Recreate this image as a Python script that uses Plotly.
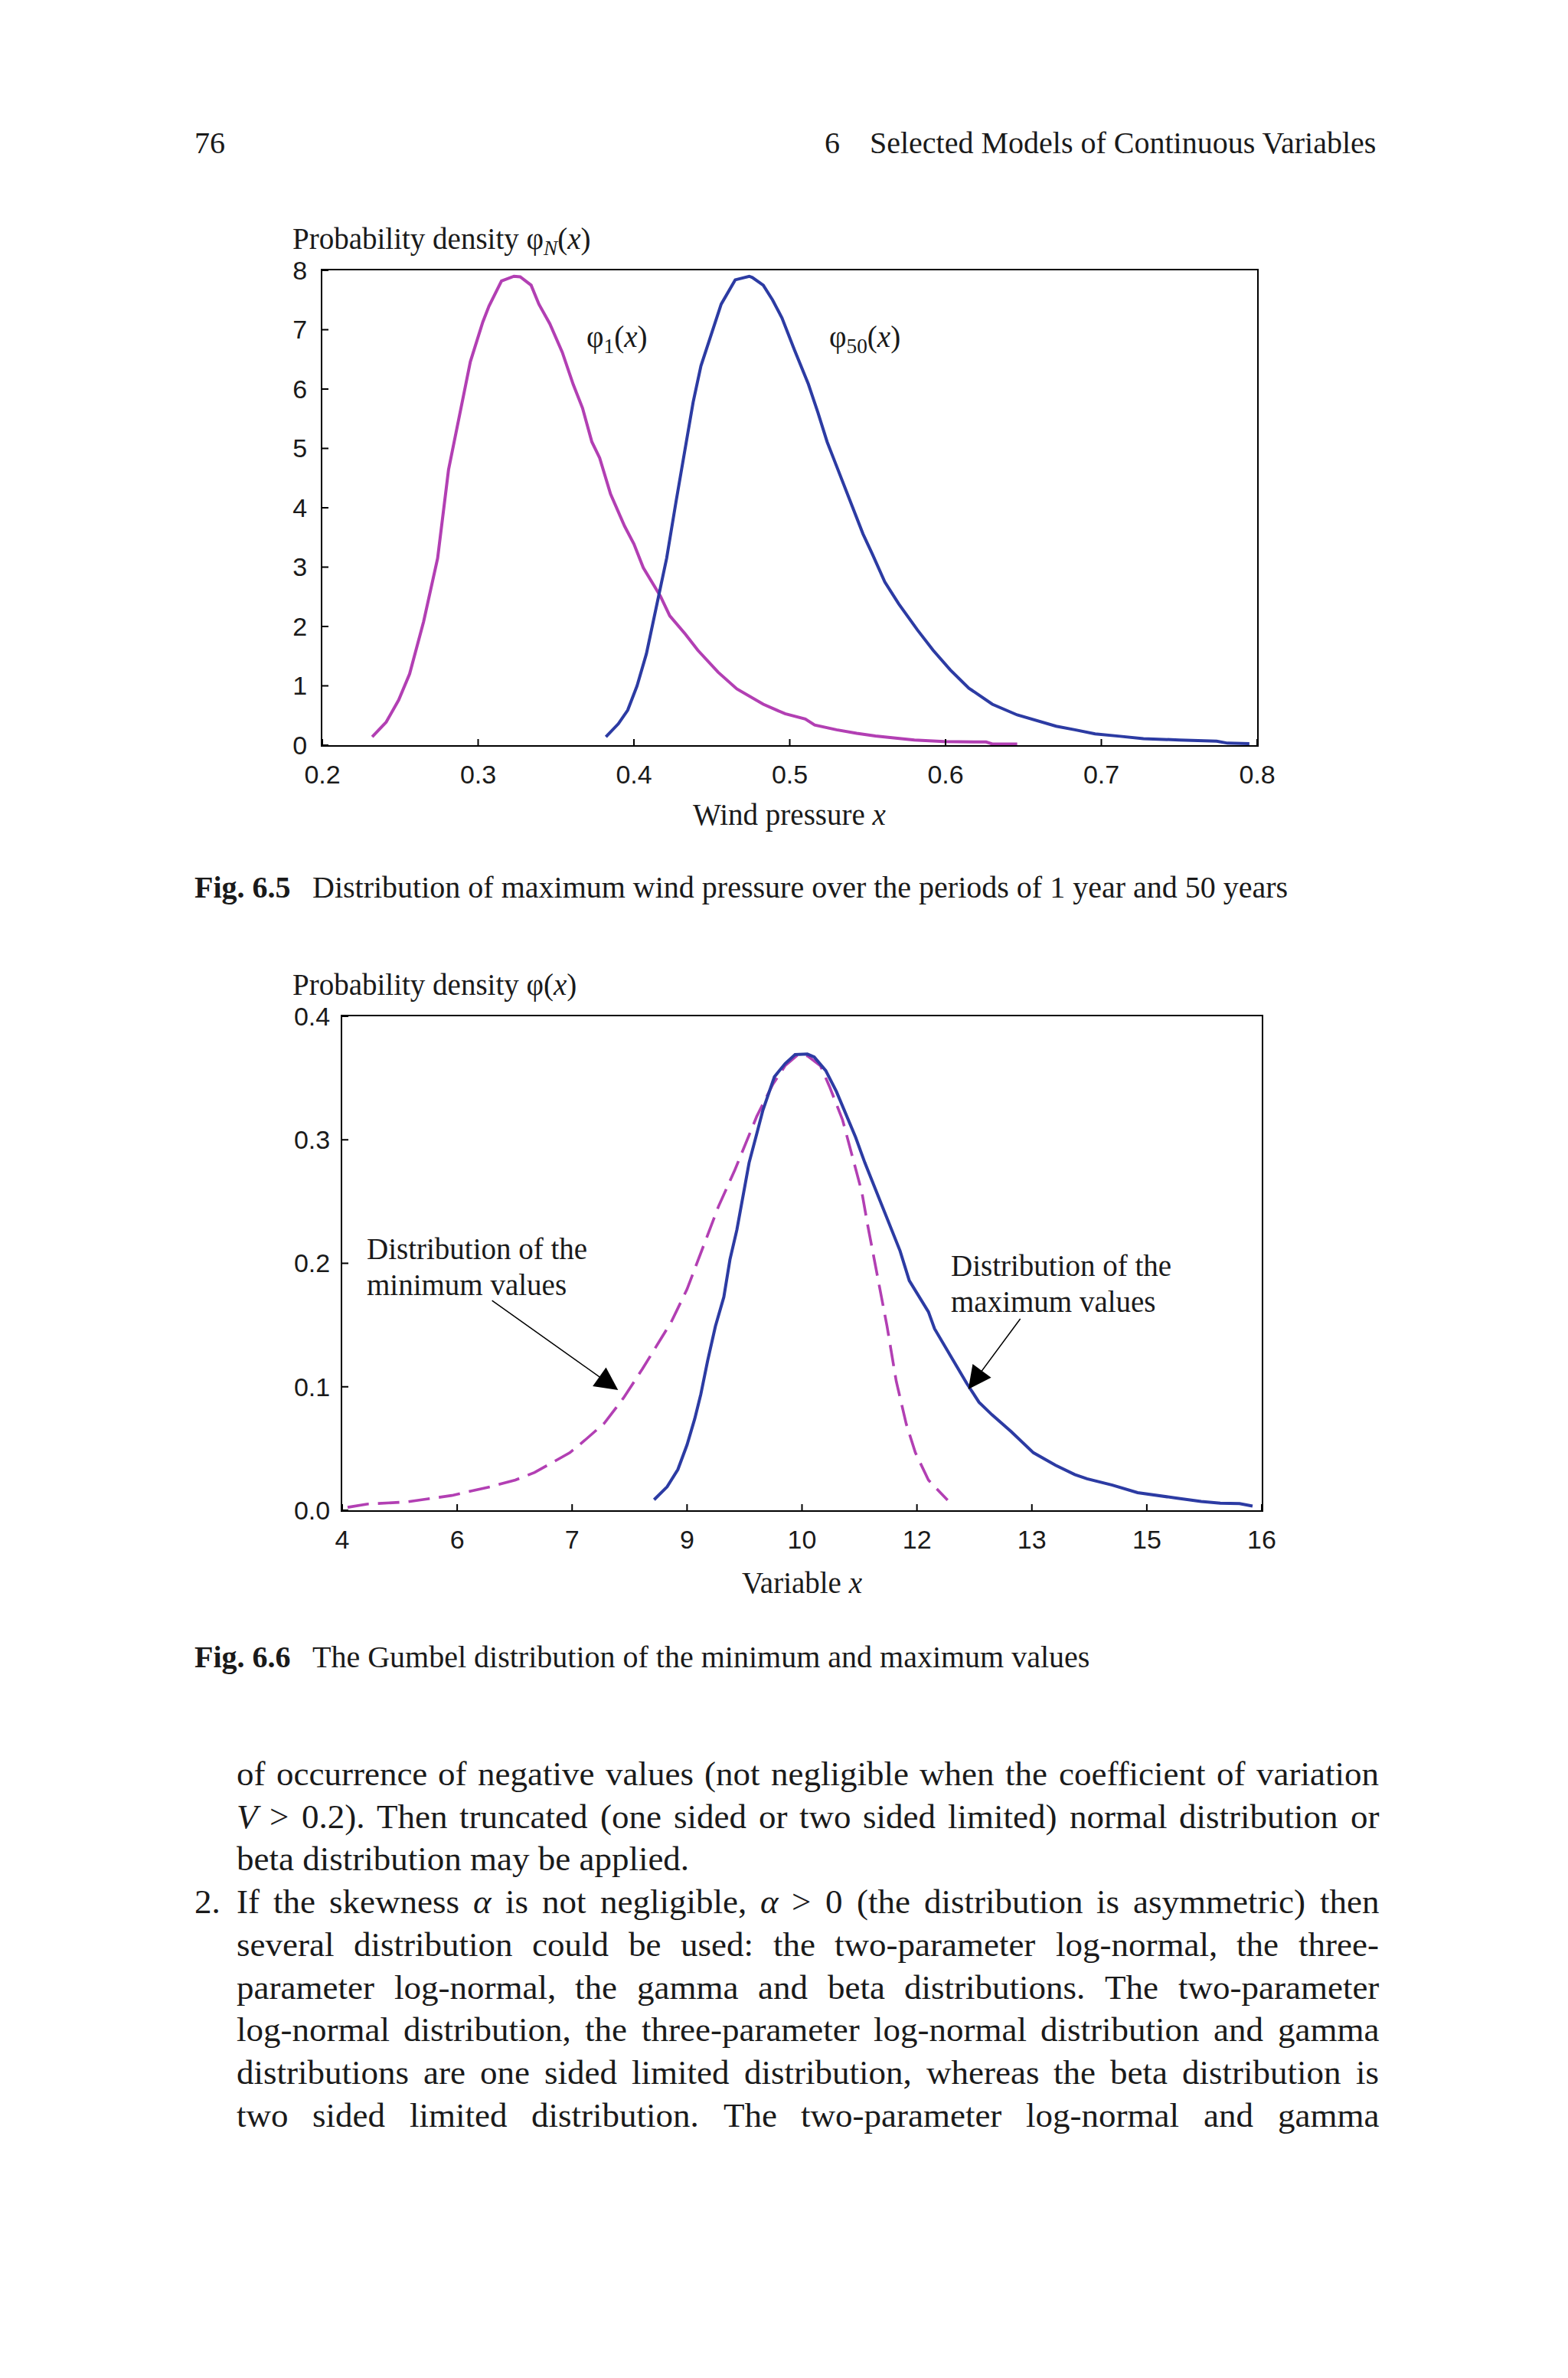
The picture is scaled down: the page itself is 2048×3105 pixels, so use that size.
import plotly.graph_objects as go
import re

W, H = 2048, 3105

# ---------------- data ----------------
# Fig 6.5 : phi_1(x)
phi1_x = [0.232, 0.241, 0.249, 0.256, 0.265, 0.274, 0.281, 0.290, 0.295, 0.303,
          0.307, 0.315, 0.323, 0.327, 0.334, 0.339, 0.346, 0.354, 0.361, 0.367,
          0.373, 0.378, 0.385, 0.394, 0.400, 0.406, 0.417, 0.423, 0.433, 0.441,
          0.454, 0.466, 0.483, 0.497, 0.510, 0.516, 0.530, 0.543, 0.555, 0.568,
          0.580, 0.599, 0.626, 0.630, 0.646]
phi1_y = [0.14, 0.39, 0.76, 1.20, 2.08, 3.15, 4.64, 5.78, 6.46, 7.13,
          7.40, 7.82, 7.90, 7.89, 7.75, 7.43, 7.10, 6.62, 6.08, 5.68,
          5.11, 4.84, 4.23, 3.69, 3.39, 2.99, 2.51, 2.18, 1.87, 1.60,
          1.23, 0.95, 0.69, 0.53, 0.44, 0.34, 0.26, 0.20, 0.155, 0.12,
          0.088, 0.06, 0.054, 0.02, 0.02]
# Fig 6.5 : phi_50(x)
phi50_x = [0.382, 0.390, 0.396, 0.402, 0.408, 0.414, 0.421, 0.427, 0.433, 0.438,
           0.443, 0.450, 0.456, 0.465, 0.474, 0.476, 0.483, 0.489, 0.495, 0.503,
           0.512, 0.518, 0.524, 0.528, 0.535, 0.541, 0.547, 0.553, 0.561, 0.570,
           0.582, 0.592, 0.603, 0.615, 0.630, 0.646, 0.661, 0.671, 0.683, 0.696,
           0.712, 0.727, 0.750, 0.774, 0.781, 0.795]
phi50_y = [0.14, 0.36, 0.59, 1.00, 1.54, 2.28, 3.15, 4.10, 5.04, 5.78,
           6.39, 6.93, 7.43, 7.84, 7.90, 7.88, 7.75, 7.50, 7.20, 6.66,
           6.08, 5.61, 5.11, 4.84, 4.37, 3.96, 3.56, 3.22, 2.75, 2.38,
           1.94, 1.60, 1.27, 0.96, 0.69, 0.51, 0.40, 0.32, 0.26, 0.19,
           0.15, 0.11, 0.088, 0.067, 0.034, 0.027]
top_xticks = [0.2, 0.3, 0.4, 0.5, 0.6, 0.7, 0.8]
top_xlabels = ["0.2", "0.3", "0.4", "0.5", "0.6", "0.7", "0.8"]
top_yticks = [0, 1, 2, 3, 4, 5, 6, 7, 8]
top_ylabels = ["0", "1", "2", "3", "4", "5", "6", "7", "8"]

# Fig 6.6 : Gumbel minimum (dashed)
gmin_x = [4.07, 4.32, 4.85, 5.43, 5.93, 6.26, 6.51, 6.97, 7.17, 7.42,
          7.67, 7.92, 8.17, 8.29, 8.50, 8.71, 8.91, 9.12, 9.25, 9.41,
          9.62, 9.78, 9.95, 10.07, 10.24, 10.36, 10.53, 10.65, 10.78, 10.86,
          10.98, 11.11, 11.23, 11.36, 11.48, 11.65, 11.90]
gmin_y = [0.0024, 0.005, 0.0068, 0.012, 0.019, 0.0245, 0.0306, 0.0466, 0.0569, 0.0705,
          0.0909, 0.1147, 0.140, 0.152, 0.179, 0.213, 0.246, 0.275, 0.295, 0.319,
          0.345, 0.360, 0.369, 0.368, 0.360, 0.343, 0.316, 0.288, 0.258, 0.230,
          0.190, 0.149, 0.1045, 0.070, 0.0466, 0.0245, 0.0082]
# Fig 6.6 : Gumbel maximum (solid)
gmax_x = [8.07, 8.24, 8.38, 8.50, 8.60, 8.68, 8.77, 8.87, 8.98, 9.06,
          9.15, 9.23, 9.31, 9.41, 9.49, 9.64, 9.78, 9.91, 10.07, 10.16,
          10.31, 10.45, 10.57, 10.70, 10.82, 10.93, 11.03, 11.15, 11.28, 11.40,
          11.53, 11.65, 11.73, 11.86, 11.98, 12.15, 12.31, 12.48, 12.73, 13.02,
          13.31, 13.56, 13.72, 14.05, 14.38, 14.63, 14.88, 15.21, 15.46, 15.71, 15.88]
gmax_y = [0.0085, 0.019, 0.033, 0.053, 0.074, 0.094, 0.1215, 0.149, 0.1726, 0.203,
          0.227, 0.254, 0.2815, 0.305, 0.324, 0.351, 0.3617, 0.369, 0.3694, 0.367,
          0.356, 0.339, 0.321, 0.302, 0.2815, 0.2645, 0.2475, 0.2305, 0.210, 0.186,
          0.1726, 0.1607, 0.147, 0.1334, 0.1198, 0.1028, 0.0875, 0.0773, 0.0637, 0.0466,
          0.0364, 0.0289, 0.0255, 0.0204, 0.0143, 0.0119, 0.0099, 0.0071, 0.0058, 0.0054, 0.0034]
bot_xticks = [4, 5.5, 7, 8.5, 10, 11.5, 13, 14.5, 16]
bot_xlabels = ["4", "6", "7", "9", "10", "12", "13", "15", "16"]
bot_yticks = [0.0, 0.1, 0.2, 0.3, 0.4]
bot_ylabels = ["0.0", "0.1", "0.2", "0.3", "0.4"]

body_lines = [
    "of occurrence of negative values (not negligible when the coefficient of variation",
    "<i>V</i> > 0.2). Then truncated (one sided or two sided limited) normal distribution or",
    "beta distribution may be applied.",
    "If the skewness <i>α</i> is not negligible, <i>α</i> > 0 (the distribution is asymmetric) then",
    "several distribution could be used: the two-parameter log-normal, the three-",
    "parameter log-normal, the gamma and beta distributions. The two-parameter",
    "log-normal distribution, the three-parameter log-normal distribution and gamma",
    "distributions are one sided limited distribution, whereas the beta distribution is",
    "two sided limited distribution. The two-parameter log-normal and gamma",
]
body_justified = [True, True, False, True, True, True, True, True, True]

# ---------------- style ----------------
MAG = "#B23FB3"
BLUE = "#2C3BA3"
INK = "#1a1a1a"
SERIF = "Liberation Serif, Times New Roman, serif"
SANS = "Liberation Sans, Arial, sans-serif"

# Times-compatible advance widths (1/1000 em) for justifying body lines
TW = {' ': 250, '(': 333, ')': 333, ',': 250, '-': 333, '.': 250, ':': 278, '>': 564,
      'α': 520, 'I': 333, 'T': 611, 'V': 611,
      'a': 444, 'b': 500, 'c': 444, 'd': 500, 'e': 444, 'f': 333, 'g': 500, 'h': 500,
      'i': 278, 'j': 278, 'k': 500, 'l': 278, 'm': 778, 'n': 500, 'o': 500, 'p': 500,
      'q': 500, 'r': 333, 's': 389, 't': 278, 'u': 500, 'v': 500, 'w': 722, 'x': 500,
      'y': 500, 'z': 444}
for d in "0123456789":
    TW[d] = 500


def word_width(w, size):
    plain = re.sub(r"<[^>]+>", "", w)
    return sum(TW.get(c, 500) for c in plain) * size / 1000.0


def px(x):
    return x / W


def py(y):
    return 1 - y / H


# plot areas in page pixels
T_L, T_R, T_T, T_B = 421, 1642, 353, 973
B_L, B_R, B_T, B_B = 447, 1648, 1327, 1972

fig = go.Figure()
fig.add_trace(go.Scatter(x=phi1_x, y=phi1_y, mode="lines",
                         line=dict(color=MAG, width=4), xaxis="x", yaxis="y"))
fig.add_trace(go.Scatter(x=phi50_x, y=phi50_y, mode="lines",
                         line=dict(color=BLUE, width=4), xaxis="x", yaxis="y"))
fig.add_trace(go.Scatter(x=gmin_x, y=gmin_y, mode="lines",
                         line=dict(color=MAG, width=3.6, dash="28px,12px"),
                         xaxis="x2", yaxis="y2"))
fig.add_trace(go.Scatter(x=gmax_x, y=gmax_y, mode="lines",
                         line=dict(color=BLUE, width=4), xaxis="x2", yaxis="y2"))

axis_common = dict(showline=True, mirror=True, linecolor="black", linewidth=2,
                   showgrid=False, zeroline=False, ticks="", fixedrange=True,
                   automargin=False,
                   tickfont=dict(family=SANS, size=34, color=INK))

fig.update_layout(
    template="none",
    width=W, height=H, margin=dict(l=0, r=0, t=0, b=0, pad=0),
    paper_bgcolor="white", plot_bgcolor="white", showlegend=False,
    xaxis=dict(domain=[px(T_L), px(T_R)], range=[0.2, 0.8], anchor="y",
               tickmode="array", tickvals=top_xticks, ticktext=top_xlabels,
               ticklabelstandoff=7, **axis_common),
    yaxis=dict(domain=[py(T_B), py(T_T)], range=[0, 8], anchor="x",
               tickmode="array", tickvals=top_yticks, ticktext=top_ylabels,
               ticklabelstandoff=11, **axis_common),
    xaxis2=dict(domain=[px(B_L), px(B_R)], range=[4, 16], anchor="y2",
                tickmode="array", tickvals=bot_xticks, ticktext=bot_xlabels,
                ticklabelstandoff=7, **axis_common),
    yaxis2=dict(domain=[py(B_B), py(B_T)], range=[0, 0.4], anchor="x2",
                tickmode="array", tickvals=bot_yticks, ticktext=bot_ylabels,
                ticklabelstandoff=7, **axis_common),
)

# crossing tick marks
shapes = []
for t in top_xticks:
    shapes.append(dict(type="line", xref="x", yref="y", x0=t, x1=t, yanchor=0,
                       ysizemode="pixel", y0=-9, y1=8, line=dict(color="black", width=2)))
for t in top_yticks:
    shapes.append(dict(type="line", xref="x", yref="y", y0=t, y1=t, xanchor=0.2,
                       xsizemode="pixel", x0=-9, x1=8, line=dict(color="black", width=2)))
for t in bot_xticks:
    shapes.append(dict(type="line", xref="x2", yref="y2", x0=t, x1=t, yanchor=0,
                       ysizemode="pixel", y0=-8, y1=8, line=dict(color="black", width=2)))
for t in bot_yticks:
    shapes.append(dict(type="line", xref="x2", yref="y2", y0=t, y1=t, xanchor=4,
                       xsizemode="pixel", x0=-9, x1=8, line=dict(color="black", width=2)))
fig.update_layout(shapes=shapes)

ann = []


def text(x, y, s, size, xanchor="left", family=SERIF, yanchor="middle"):
    ann.append(dict(xref="paper", yref="paper", x=px(x), y=py(y), text=s,
                    showarrow=False, xanchor=xanchor, yanchor=yanchor,
                    font=dict(family=family, size=size, color=INK)))


# running header
text(252, 186, "76", 40)
text(1075, 186, "6", 40)
text(1799, 186, "Selected Models of Continuous Variables", 40, xanchor="right")

# Fig 6.5 labels
text(380, 314, "Probability density φ<sub><i>N</i></sub>(<i>x</i>)", 39)
text((T_L + T_R) / 2, 1064, "Wind pressure <i>x</i>", 39, xanchor="center")
ann.append(dict(xref="x", yref="y", x=0.3686, y=6.84, text="φ<sub>1</sub>(<i>x</i>)",
                showarrow=False, xanchor="left", yanchor="middle",
                font=dict(family=SERIF, size=39, color=INK)))
ann.append(dict(xref="x", yref="y", x=0.5243, y=6.84, text="φ<sub>50</sub>(<i>x</i>)",
                showarrow=False, xanchor="left", yanchor="middle",
                font=dict(family=SERIF, size=39, color=INK)))
text(252, 1158, "<b>Fig. 6.5</b>", 40)
text(406, 1158, "Distribution of maximum wind pressure over the periods of 1 year and 50 years", 40)

# Fig 6.6 labels
text(380, 1286, "Probability density φ(<i>x</i>)", 39)
text((B_L + B_R) / 2, 2066, "Variable <i>x</i>", 39, xanchor="center")
text(477, 1630, "Distribution of the", 39)
text(477, 1677, "minimum values", 39)
text(1240, 1652, "Distribution of the", 39)
text(1240, 1699, "maximum values", 39)
ann.append(dict(xref="x2", yref="y2", x=7.60, y=0.0973, ax=5.94, ay=0.1705,
                axref="x2", ayref="y2", text="", showarrow=True, arrowhead=2,
                arrowsize=4, arrowwidth=1.5, arrowcolor="black"))
ann.append(dict(xref="x2", yref="y2", x=12.17, y=0.098, ax=12.86, ay=0.156,
                axref="x2", ayref="y2", text="", showarrow=True, arrowhead=2,
                arrowsize=4, arrowwidth=1.5, arrowcolor="black"))
text(252, 2163, "<b>Fig. 6.6</b>", 40)
text(406, 2163, "The Gumbel distribution of the minimum and maximum values", 40)

# body text (justified like the book page)
BODY_SIZE = 45
BODY_L, BODY_R = 307, 1799
line_y0, line_dy = 2316, 55.7
for i, s in enumerate(body_lines):
    yy = line_y0 + i * line_dy
    if not body_justified[i]:
        text(BODY_L, yy, s, BODY_SIZE)
        continue
    words = s.split(" ")
    widths = [word_width(w, BODY_SIZE) for w in words]
    gap = (BODY_R - BODY_L - sum(widths)) / (len(words) - 1)
    xx = BODY_L
    for w, wd in zip(words, widths):
        text(xx, yy, w, BODY_SIZE)
        xx += wd + gap
text(252, line_y0 + 3 * line_dy, "2.", BODY_SIZE)

fig.update_layout(annotations=ann)
fig.write_html("out.html", config={"displayModeBar": False},
               post_script="document.body.style.margin='0';document.body.style.overflow='hidden';")
